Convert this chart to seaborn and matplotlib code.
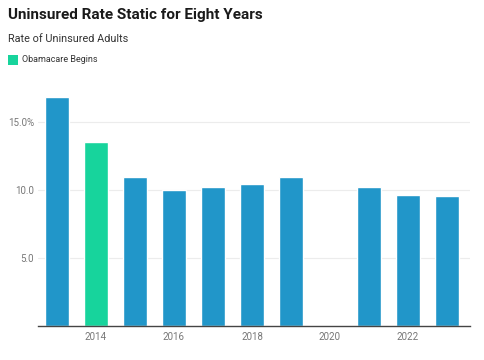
import matplotlib
matplotlib.use("Agg")
import matplotlib.pyplot as plt
import seaborn as sns
import pandas as pd
import numpy as np
from matplotlib.patches import Rectangle

years = ["2013", "2014", "2015", "2016", "2017", "2018", "2019", "2020", "2021", "2022", "2023"]
rates = [16.8, 13.5, 10.9, 10.0, 10.2, 10.4, 10.9, np.nan, 10.2, 9.6, 9.5]
groups = ["Other", "Obamacare Begins", "Other", "Other", "Other", "Other", "Other", "Other", "Other", "Other", "Other"]
xtick_years = ["2014", "2016", "2018", "2020", "2022"]
ytick_vals = [5, 10, 15]
ytick_labels = ["5.0", "10.0", "15.0%"]

blue = "#2196c9"
green = "#17d49c"

sns.set_theme(style="white")
plt.rcParams['font.family'] = ['Roboto', 'DejaVu Sans']

df = pd.DataFrame({"year": years, "rate": rates, "group": groups})

fig = plt.figure(figsize=(4.85, 3.6), dpi=100)
ax = fig.add_axes([38/485, 1 - 325.5/360, (470-38)/485, (325.5-80.7)/360])

sns.barplot(data=df, x="year", y="rate", hue="group", order=years,
            palette={"Other": blue, "Obamacare Begins": green},
            dodge=False, width=0.62, legend=False, ax=ax, saturation=1)

ax.set_ylim(0, 18)
ax.set_xlim(-0.487, 10.59)
ax.set_yticks(ytick_vals)
ax.set_yticklabels(ytick_labels)
ax.set_xticks([years.index(y) for y in xtick_years])
ax.set_xticklabels(xtick_years)
ax.tick_params(axis="both", length=0, labelsize=7, labelcolor="#777777")
ax.tick_params(axis="x", pad=5)
ax.tick_params(axis="y", pad=3)
ax.yaxis.grid(True, color="#ececec", linewidth=0.8)
ax.set_axisbelow(True)
for s in ["top", "right", "left"]:
    ax.spines[s].set_visible(False)
ax.spines["bottom"].set_color("#444444")
ax.spines["bottom"].set_linewidth(1.0)
ax.set_xlabel("")
ax.set_ylabel("")

fig.text(8/485, 1 - 15/360, "Uninsured Rate Static for Eight Years", fontsize=11,
         fontweight="bold", color="#1a1a1a", va="center", ha="left")
fig.text(8/485, 1 - 39/360, "Rate of Uninsured Adults", fontsize=7.8,
         color="#333333", va="center", ha="left")
fig.patches.append(Rectangle((8/485, 1 - 65/360), 10/485, 10/360,
                             transform=fig.transFigure, facecolor=green, edgecolor="none"))
fig.text(22/485, 1 - 60/360, "Obamacare Begins", fontsize=6.5,
         color="#333333", va="center", ha="left")

fig.savefig("out.png", dpi=100)
